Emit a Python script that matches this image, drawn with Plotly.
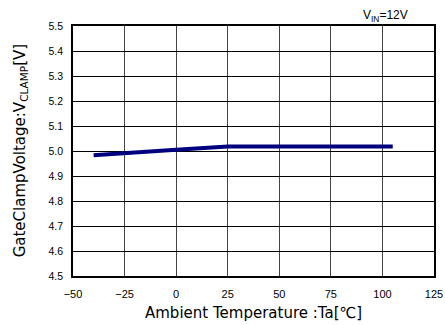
import plotly.graph_objects as go

temp = [-40, -25, 0, 25, 50, 75, 105]
vclamp = [4.983, 4.99, 5.005, 5.018, 5.018, 5.018, 5.018]

x_ticks = [-50, -25, 0, 25, 50, 75, 100, 125]
y_ticks = [4.5, 4.6, 4.7, 4.8, 4.9, 5.0, 5.1, 5.2, 5.3, 5.4, 5.5]

fig = go.Figure()
fig.add_trace(go.Scatter(x=temp, y=vclamp, mode='lines',
                         line=dict(color='#00007f', width=4), showlegend=False))

fig.update_layout(
    width=445, height=325,
    margin=dict(l=73, r=11, t=26, b=49),
    paper_bgcolor='white', plot_bgcolor='white',
    font=dict(family='Liberation Sans, Arial', color='black', size=10),
)
fig.update_xaxes(range=[-50, 125], tickvals=x_ticks, showgrid=True,
                 gridcolor='#444444', gridwidth=1, showline=True, linecolor='black',
                 linewidth=1.5, mirror=True, zeroline=False,
                 ticks='outside', ticklen=7, tickcolor='rgba(0,0,0,0)',
                 tickfont=dict(size=11), automargin=False, ticklabeloverflow='allow')
fig.update_yaxes(range=[4.5, 5.5], tickvals=y_ticks, tickformat='.1f', showgrid=True,
                 gridcolor='black', gridwidth=1, showline=True, linecolor='black',
                 linewidth=1.5, mirror=True, zeroline=False,
                 ticks='outside', ticklen=6, tickcolor='rgba(0,0,0,0)',
                 tickfont=dict(size=10.5), automargin=False)

# axis titles and condition label
title_font = dict(family='DejaVu Sans', size=15)
fig.add_annotation(text='Ambient Temperature :Ta[℃]', xref='paper', yref='paper',
                   x=0.5, y=-0.104, xanchor='center', yanchor='top', showarrow=False,
                   font=title_font)
fig.add_annotation(text='GateClampVoltage:V<sub>CLAMP</sub>[V]', xref='paper', yref='paper',
                   x=-0.114, y=0.5, xanchor='right', yanchor='middle', showarrow=False,
                   textangle=-90, font=title_font)
fig.add_annotation(text='V<sub>IN</sub>=12V', xref='paper', yref='paper', x=0.933, y=1.0,
                   xanchor='right', yanchor='bottom', showarrow=False, font=dict(size=12))

# drop the default body margin so the figure fills the window exactly
fig.write_html("out.html", config={'displayModeBar': False},
               post_script="document.body.style.margin='0';")
